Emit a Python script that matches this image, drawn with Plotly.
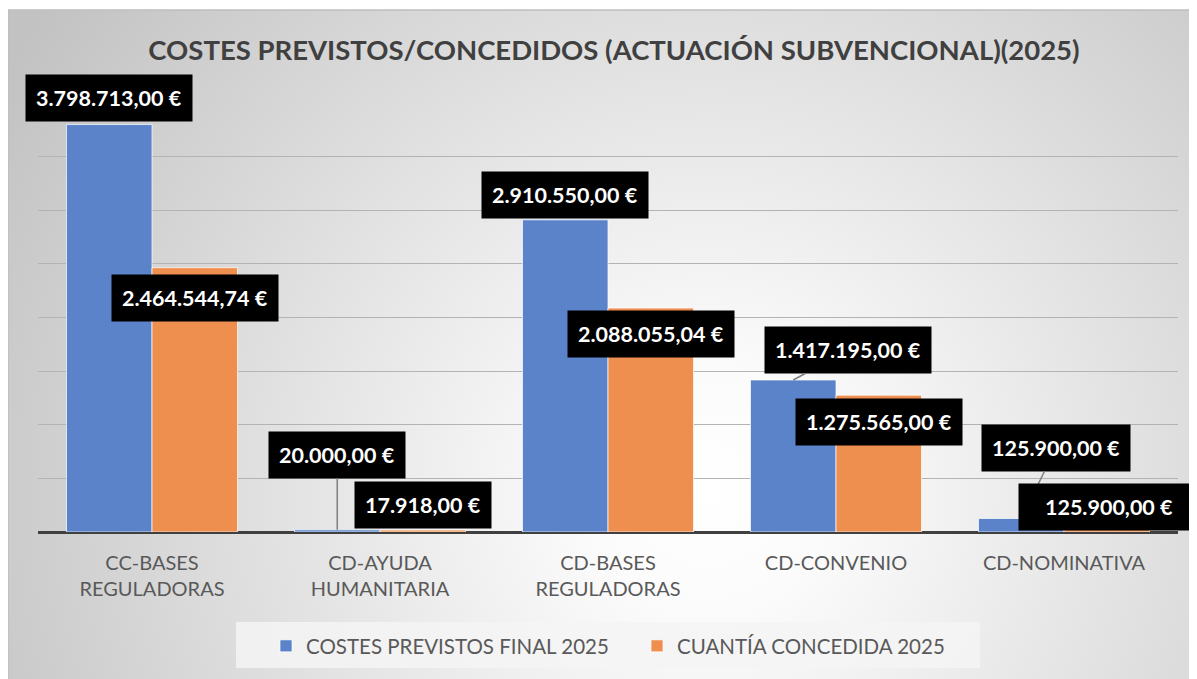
import base64
import plotly.graph_objects as go

# data
categories = ["CC-BASES<br>REGULADORAS", "CD-AYUDA<br>HUMANITARIA", "CD-BASES<br>REGULADORAS",
              "CD-CONVENIO", "CD-NOMINATIVA"]
costes_previstos = [3798713.00, 20000.00, 2910550.00, 1417195.00, 125900.00]
cuantia_concedida = [2464544.74, 17918.00, 2088055.04, 1275565.00, 125900.00]
series_names = ["COSTES PREVISTOS FINAL 2025", "CUANTÍA CONCEDIDA 2025"]
title_text = "COSTES PREVISTOS/CONCEDIDOS (ACTUACIÓN SUBVENCIONAL)(2025)"

BLUE = "#5a83c9"
ORANGE = "#ee8e4f"
FONT = "Lato"

OFF = 8  # page margin of the html body
W, H = 1197, 679
ML, MR, MT, MB = 38 - OFF, 19 + OFF, 103 - OFF, 147 + OFF
PW = W - ML - MR
PH = H - MT - MB


def eur(v):
  s = f"{v:,.2f}"
  return s.replace(",", "X").replace(".", ",").replace("X", ".") + " €"


def px_to_paper(px, py):
  # screen pixel -> paper coords
  return (px - OFF - ML) / PW, (H - MB - (py - OFF)) / PH


# label offsets (pixels from bar top), leader line flag, box width (None = auto)
blue_offsets = [(0, -27, False, None), (0, -75, True, None), (0, -25, False, None), (55, -30, True, None),
                (35, -71, True, None)]
orange_offsets = [(0, 30, False, None), (0, -25, False, None), (0, 26, False, None), (0, 27, False, None),
                  (2, -12, False, 160)]

fig = go.Figure()
for name, vals, col in [(series_names[0], costes_previstos, BLUE), (series_names[1], cuantia_concedida, ORANGE)]:
  fig.add_trace(go.Bar(x=categories, y=vals, name=name, marker_color=col,
                       marker_line=dict(color="rgba(255,255,255,0.7)", width=1)))

# radial gradient background of the chart area
svg = """<svg xmlns="http://www.w3.org/2000/svg" width="1189" height="669" viewBox="0 0 1189 669" preserveAspectRatio="none">
<defs><radialGradient id="g" cx="700" cy="480" r="820" gradientUnits="userSpaceOnUse">
<stop offset="0" stop-color="#ffffff"/><stop offset="0.15" stop-color="#fbfbfb"/><stop offset="1" stop-color="#c2c2c2"/>
</radialGradient></defs><rect width="1189" height="669" fill="url(#g)"/></svg>"""
src = "data:image/svg+xml;base64," + base64.b64encode(svg.encode()).decode()
x0, y0 = px_to_paper(8, 10)
x1, y1 = px_to_paper(1197, 679)
fig.add_layout_image(dict(source=src, xref="paper", yref="paper", x=x0, y=y0, sizex=x1 - x0, sizey=y0 - y1,
                          xanchor="left", yanchor="top", sizing="stretch", layer="below"))
fig.add_shape(type="rect", xref="paper", yref="paper", x0=x0, y0=y0, x1=x1 + 0.01, y1=y1 - 0.01,
              line=dict(color="#bfbfbf", width=1.5), layer="below")

# legend background box
lx0, ly0 = px_to_paper(236, 622)
lx1, ly1 = px_to_paper(980, 668)
fig.add_shape(type="rect", xref="paper", yref="paper", x0=lx0, y0=ly0, x1=lx1, y1=ly1,
              line_width=0, fillcolor="rgba(244,244,244,0.85)", layer="below")

# data labels
bar_half = PW / 5 * 0.75 / 4
for vals, offsets, shift in [(costes_previstos, blue_offsets, -bar_half), (cuantia_concedida, orange_offsets, bar_half)]:
  for cat, v, (ax, ay, leader, bw) in zip(categories, vals, offsets):
    fig.add_annotation(x=cat, y=v, xref="x", yref="y", xshift=shift, text="<b>" + eur(v) + "</b>",
                       showarrow=True, ax=ax, ay=ay, arrowhead=0, arrowwidth=1.5, standoff=0,
                       arrowcolor="#7f7f7f" if leader else "rgba(0,0,0,0)", width=bw,
                       bgcolor="black", borderpad=10, font=dict(family=FONT, size=21.5, color="white"))

fig.update_layout(
  width=W, height=H, margin=dict(l=ML, r=MR, t=MT, b=MB, autoexpand=False),
  paper_bgcolor="white", plot_bgcolor="rgba(0,0,0,0)",
  title=dict(text="<b>" + title_text + "</b>", x=(614 - OFF) / W, xanchor="center", y=1 - (50 - OFF) / H,
             yanchor="middle", font=dict(family=FONT, size=27.5, color="#404040")),
  barmode="group", bargap=0.25, bargroupgap=0,
  showlegend=True,
  legend=dict(orientation="h", x=px_to_paper(637, 0)[0], xanchor="center", y=px_to_paper(0, 646)[1],
              yanchor="middle", bgcolor="rgba(0,0,0,0)", font=dict(family=FONT, size=20.5, color="#595959"),
              entrywidth=326),
  xaxis=dict(range=[-0.5, 4.5], tickfont=dict(family=FONT, size=20, color="#595959"), ticks="outside",
             ticklen=13, tickcolor="rgba(0,0,0,0)", showline=False, automargin=False),
  yaxis=dict(range=[0, 4000000], dtick=500000, showticklabels=False, gridcolor="#b3b3b3", gridwidth=1.3,
             zeroline=True, zerolinecolor="#404040", zerolinewidth=3, automargin=False),
)

fig.write_html("out.html")
